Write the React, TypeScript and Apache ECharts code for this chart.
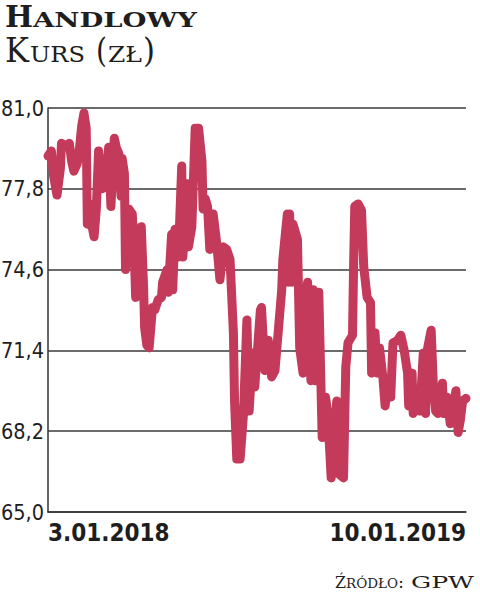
import React, { useEffect, useRef } from "react";
import * as echarts from "echarts";

// ---- data ----
const xTickLabels = ["3.01.2018", "10.01.2019"];
const spanDays = 372; // 3.01.2018 -> 10.01.2019
const dayOffsets = [
  0, 3, 5, 8, 11, 12, 16, 19, 21, 23, 26, 28, 30, 32, 34, 35, 37, 38, 41, 43,
  45, 48, 51, 54, 56, 59, 61, 63, 65, 66, 68, 69, 72, 75, 77, 78, 81, 83, 85, 86,
  88, 90, 93, 95, 98, 101, 102, 106, 107, 110, 111, 113, 116, 119, 120, 124, 125, 128, 131, 134,
  137, 138, 140, 142, 144, 147, 150, 153, 156, 159, 162, 165, 166, 168, 171, 174, 177, 179, 182, 184,
  189, 190, 193, 196, 199, 202, 205, 208, 209, 213, 214, 215, 217, 218, 222, 224, 227, 231, 234, 236,
  238, 241, 244, 247, 249, 252, 254, 257, 259, 263, 265, 267, 271, 272, 273, 276, 279, 281, 284, 287,
  288, 291, 293, 295, 298, 300, 303, 305, 307, 311, 314, 317, 320, 321, 324, 325, 329, 331, 334, 336,
  337, 341, 343, 345, 347, 351, 352, 355, 358, 360, 363, 365, 367, 369, 372,
];
const prices = [
  79.1, 79.3, 78.3, 77.55, 78.6, 79.6, 79.5, 79.6, 78.9, 78.5, 78.8, 79.4, 80.3, 80.8, 80.2, 76.4, 77.2, 76.6, 75.9, 77.0,
  79.3, 77.8, 77.9, 79.45, 77.1, 79.8, 79.4, 79.2, 77.5, 79.0, 78.4, 74.6, 77.0, 76.8, 75.0, 73.5, 76.0, 76.3, 74.0, 72.3,
  71.6, 71.5, 73.1, 73.0, 73.4, 73.5, 74.1, 74.6, 73.7, 76.0, 73.8, 76.2, 75.1, 78.7, 75.1, 78.0, 75.5, 76.3, 80.2, 80.2,
  78.9, 77.0, 77.4, 77.1, 75.4, 76.8, 75.7, 74.2, 75.5, 75.4, 75.0, 72.1, 69.4, 67.1, 67.1, 68.9, 72.6, 69.0, 71.3, 69.95,
  73.0, 73.1, 70.6, 71.8, 70.35, 70.6, 72.2, 73.8, 75.0, 76.8, 74.1, 76.8, 74.1, 76.4, 75.8, 71.5, 70.5, 74.1, 70.2, 73.8,
  70.2, 73.7, 67.95, 69.55, 68.9, 66.35, 67.6, 69.4, 66.5, 66.35, 70.75, 71.7, 72.0, 74.85, 77.1, 77.2, 76.95, 74.7, 73.5, 73.3,
  70.5, 72.1, 70.5, 71.5, 70.35, 69.2, 70.2, 69.55, 71.7, 71.8, 72.0, 71.4, 70.5, 69.2, 70.5, 68.9, 69.3, 69.0, 71.3, 68.9,
  71.3, 72.2, 69.95, 69.0, 68.9, 70.1, 68.9, 69.55, 68.5, 69.0, 69.8, 68.15, 68.65, 69.4, 69.5,
];
const yMin = 65.0;
const yMax = 81.0;
const yStep = 3.2;

const titlePieces = ["H", "ANDLOWY"];
const subtitlePieces = ["K", "URS", "(", "ZŁ", ")"];
const sourcePieces = ["Ź", "RÓDŁO", ":", "GPW"];

// ---- layout of the header / footer texts (visual boxes) ----
const titleLayout = [
  { size: 29, x: 5, w: 28 },
  { size: 20.5, x: 33, w: 164 },
];
const subtitleLayout = [
  { size: 33, x: 5, w: 24 },
  { size: 23, x: 30, w: 55 },
  { size: 33, x: 96, w: 11 },
  { size: 23, x: 108, w: 34 },
  { size: 33, x: 143, w: 12 },
];
const sourceLayout = [
  { size: 16.5, x: 335, w: 11 },
  { size: 12, x: 346, w: 52 },
  { size: 16.5, x: 398, w: 6 },
  { size: 16.5, x: 411, w: 63 },
];

const SERIF = '"DejaVu Serif", "Liberation Serif", serif';
const NARROW = '"DejaVu Sans Condensed", "Liberation Sans Narrow", "Roboto", sans-serif';
const LINE_COLOR = "#C43A5B";
const INK = "#1e1e1e";

function measure(ctx: CanvasRenderingContext2D | null, text: string, weight: string, size: number) {
  if (!ctx) return text.length * size * 0.7;
  ctx.font = `${weight} ${size}px ${SERIF}`;
  return ctx.measureText(text).width || text.length * size * 0.7;
}

function buildLine(
  ctx: CanvasRenderingContext2D | null,
  pieces: string[],
  layout: { size: number; x: number; w: number }[],
  weight: string,
  baseline: number
) {
  return pieces.map((t, i) => {
    const l = layout[i];
    const natural = measure(ctx, t, weight, l.size);
    const sx = l.w / natural;
    return {
      type: "text",
      x: l.x,
      y: baseline - 0.346 * l.size,
      scaleX: sx,
      silent: true,
      style: {
        text: t,
        fill: INK,
        fontFamily: SERIF,
        fontSize: l.size,
        fontWeight: weight,
        textAlign: "left",
        textVerticalAlign: "middle",
        align: "left",
        verticalAlign: "middle",
      },
    };
  });
}

export default function App() {
  const ref = useRef<HTMLDivElement>(null);

  useEffect(() => {
    if (!ref.current) return;
    const chart = echarts.init(ref.current, undefined, { renderer: "svg" });
    const canvas = document.createElement("canvas");
    const ctx = canvas.getContext("2d");

    const seriesData = dayOffsets.map((d, i) => [d, +(prices[i] - yMin).toFixed(3)]);

    const graphics = [
      ...buildLine(ctx, titlePieces, titleLayout, "bold", 27),
      ...buildLine(ctx, subtitlePieces, subtitleLayout, "normal", 62),
      ...buildLine(ctx, sourcePieces, sourceLayout, "normal", 588),
    ];

    chart.setOption({
      animation: false,
      backgroundColor: "#ffffff",
      grid: {
        left: 48,
        right: 14,
        top: 108,
        bottom: 81,
        containLabel: false,
        outerBoundsMode: "none",
      },
      xAxis: {
        type: "value",
        min: 0,
        max: spanDays,
        interval: spanDays,
        axisLine: { show: true, lineStyle: { color: "#333", width: 1.5 } },
        axisTick: { show: false },
        splitLine: { show: false },
        axisLabel: {
          show: true,
          margin: 9,
          color: INK,
          fontFamily: NARROW,
          fontWeight: "bold",
          fontSize: 24,
          alignMinLabel: "left",
          alignMaxLabel: "right",
          formatter: (v: number) => (v <= 0 ? xTickLabels[0] : xTickLabels[1]),
        },
      },
      yAxis: {
        type: "value",
        min: 0,
        max: yMax - yMin,
        interval: yStep,
        axisLine: { show: true, lineStyle: { color: "#333", width: 1.5 } },
        axisTick: { show: false },
        splitLine: { show: true, lineStyle: { color: "#3a3a3a", width: 1.5 } },
        axisLabel: {
          show: true,
          margin: 4,
          color: INK,
          fontFamily: NARROW,
          fontSize: 21.5,
          formatter: (v: number) => (v + yMin).toFixed(1).replace(".", ","),
        },
      },
      series: [
        {
          type: "line",
          data: seriesData,
          showSymbol: false,
          symbol: "none",
          smooth: false,
          lineStyle: { color: LINE_COLOR, width: 9, cap: "round", join: "round" },
          silent: true,
        },
      ],
      graphic: graphics,
    });

    return () => chart.dispose();
  }, []);

  return (
    <div
      ref={ref}
      style={{ position: "absolute", left: 0, top: 0, width: 480, height: 593, background: "#fff" }}
    />
  );
}
